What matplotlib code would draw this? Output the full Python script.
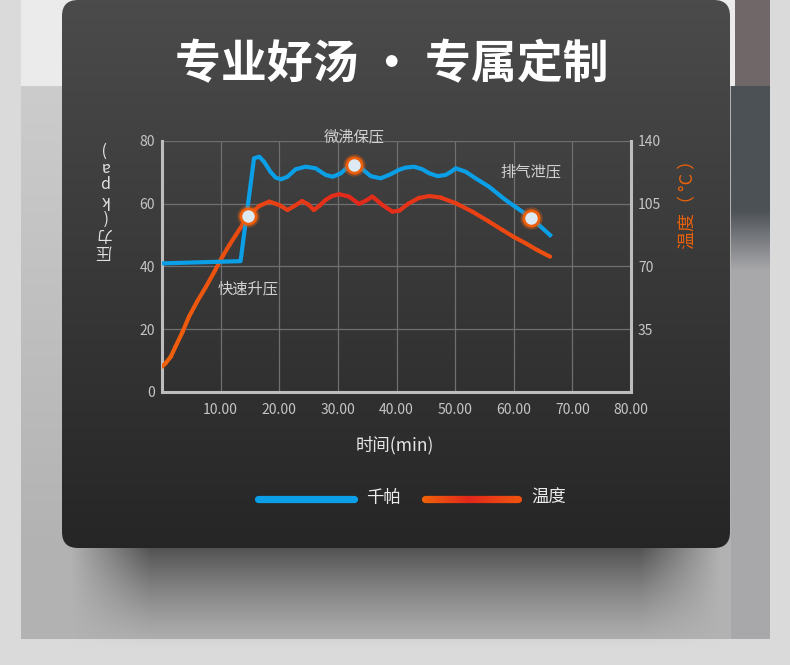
import numpy as np
import matplotlib
matplotlib.use('Agg')
import matplotlib.pyplot as plt
from matplotlib.patches import FancyBboxPatch
from matplotlib.collections import LineCollection
from matplotlib.colors import LinearSegmentedColormap

plt.rcParams['font.family'] = ['Noto Sans CJK SC', 'DejaVu Sans']

W, H = 790, 665

# pressure curve (kPa) against time (min)
press_time = [0, 13.4, 15.7, 16.6, 17.4, 18.5, 19.4, 20.3, 21.4, 22.8, 24.5, 26.2,
              27.9, 29.1, 30.5, 31.6, 32.8, 34.2, 35.6, 37.3, 39.0, 40.4, 41.5,
              43.0, 44.4, 45.6, 47.0, 48.4, 49.3, 50.1, 51.8, 53.5, 55.8, 58.6,
              62.9, 66.2]
press_kpa = [41.0, 41.7, 74.5, 75.0, 73.4, 70.2, 68.3, 67.8, 68.6, 71.0, 71.8, 71.3,
             69.2, 68.6, 69.7, 71.6, 72.3, 71.0, 68.8, 68.1, 69.4, 70.8, 71.5,
             71.8, 71.0, 69.7, 68.8, 69.2, 70.2, 71.3, 70.2, 68.1, 65.4, 61.2,
             55.6, 50.0]

# temperature curve (°C) against time (min)
temp_time = [0, 0.6, 1.5, 2.3, 3.5, 4.6, 6.0, 7.5, 9.0, 10.3, 11.5, 12.6, 14.7,
             16.6, 18.3, 20.0, 21.4, 22.6, 23.9, 25.0, 25.9, 26.9, 27.9, 29.0,
             30.2, 31.9, 33.6, 34.8, 35.9, 37.6, 39.3, 40.5, 42.0, 43.8, 45.6,
             47.5, 50.1, 53.0, 55.8, 58.0, 60.0, 62.0, 64.0, 66.2]
temp_c = [14.1, 16.0, 19.7, 25.3, 33.5, 42.0, 50.5, 58.7, 67.5, 75.5, 82.0, 87.6, 98.2,
          103.8, 106.2, 104.3, 101.5, 103.8, 106.5, 104.5, 101.5, 104.0, 107.1, 109.3,
          110.3, 109.0, 104.9, 106.8, 109.0, 104.3, 100.6, 101.2, 105.0, 108.2, 109.3,
          108.5, 105.3, 100.5, 95.0, 90.5, 86.5, 83.0, 79.2, 75.5]

press_marks = [16, 34]   # indices of highlighted pressure points
temp_marks = [12]        # index of highlighted temperature point

x_ticks = [0, 10, 20, 30, 40, 50, 60, 70, 80]
x_labels = ['', '10.00', '20.00', '30.00', '40.00', '50.00', '60.00', '70.00', '80.00']
p_ticks = [0, 20, 40, 60, 80]
t_ticks = [0, 35, 70, 105, 140]
t_labels = ['', '35', '70', '105', '140']

notes = ['快速升压', '微沸保压', '排气泄压']
note_pos = [(14.7, 32.8), (32.8, 81.3), (63.0, 70.1)]

BLUE = '#0a9fe6'
ORANGE = '#ee5f0c'
warm = LinearSegmentedColormap.from_list('warm', ['#f0620a', '#e2281c', '#ee5010'])

fig = plt.figure(figsize=(W / 100, H / 100), dpi=100)

# ---- background / card
bg = fig.add_axes([0, 0, 1, 1])
bg.set_xlim(0, W)
bg.set_ylim(H, 0)
bg.axis('off')

yy, xx = np.mgrid[0:H, 0:W].astype(float)
img = np.ones((H, W, 3)) * 0.855
inner = (xx >= 21) & (xx <= 769) & (yy <= 638)
img[inner] = 0.70
top = inner & (yy < 86)
img[top & (xx < 735)] = 0.925
img[top & (xx >= 735)] = [0.44, 0.41, 0.41]
left_col = inner & (yy >= 86) & (xx < 62)
g = 0.80 - 0.10 * np.clip((yy - 86) / 460, 0, 1)
img[left_col] = g[left_col][:, None]
right_col = inner & (yy >= 86) & (xx > 730)
f = np.clip((yy - 210) / 60, 0, 1)[..., None]
rc = np.array([0.30, 0.32, 0.34]) * (1 - f) + np.array([0.66, 0.66, 0.67]) * f
img[right_col] = rc[right_col]
# card shadow
sy = np.clip(1 - (yy - 548) / 100, 0, 1) ** 1.3 * (yy >= 548)
sx = np.clip((xx - 70) / 80, 0, 1) * np.clip((720 - xx) / 80, 0, 1)
a = (0.85 * sy * sx)[..., None]
img = img * (1 - a) + 0.26 * a
bg.imshow(img, extent=[0, W, H, 0], zorder=0)

card = FancyBboxPatch((62, 0), 668, 548, boxstyle='round,pad=0,rounding_size=16',
                      fc='none', ec='none', zorder=1)
bg.add_patch(card)
grad = np.linspace(0.295, 0.148, 300)[:, None] * np.ones((300, 2))
cimg = bg.imshow(np.dstack([grad, grad, grad]), extent=[62, 730, 548, 0],
                 aspect='auto', zorder=1)
cimg.set_clip_path(card)

fig.text(392 / W, 1 - 65 / H, '专业好汤 · 专属定制', ha='center', va='center',
         fontsize=33, fontweight='bold', color='white')

# legend swatches
bg.plot([258, 354], [499, 499], color=BLUE, lw=5.2, solid_capstyle='round', zorder=3)
lx = np.linspace(425, 518, 60)
segs = [[(lx[i], 499), (lx[i + 1], 499)] for i in range(len(lx) - 1)]
bg.add_collection(LineCollection(segs, colors=warm(np.linspace(0, 1, len(segs))),
                                 lw=5.2, capstyle='round', zorder=3))
bg.text(366, 498, '千帕', ha='left', va='center', fontsize=12.5, color='#ececec')
bg.text(531, 498, '温度', ha='left', va='center', fontsize=12.5, color='#ececec')

# ---- chart
ax = fig.add_axes([162 / W, 1 - 392 / H, 469 / W, 251 / H])
ax.patch.set_visible(False)
ax2 = ax.twinx()

ax.set_xlim(0, 80)
ax.set_ylim(0, 80)
ax2.set_ylim(0, 140)
ax.set_xticks(x_ticks, x_labels)
ax.set_yticks(p_ticks)
ax2.set_yticks(t_ticks, t_labels)
ax.grid(True, color='#6f6f6f', lw=0.9)
ax.set_axisbelow(True)

for sp in ['top', 'right']:
    ax.spines[sp].set_visible(False)
for sp in ['left', 'bottom']:
    ax.spines[sp].set_color('#bdbdbd')
    ax.spines[sp].set_linewidth(2.2)
for sp in ['top', 'left', 'bottom']:
    ax2.spines[sp].set_visible(False)
ax2.spines['right'].set_color('#bdbdbd')
ax2.spines['right'].set_linewidth(2.2)

ax.tick_params(axis='y', length=0, colors='#c6c6c6', labelsize=10, pad=5)
ax.tick_params(axis='x', length=0, colors='#c6c6c6', labelsize=10, pad=8)
ax2.tick_params(axis='y', length=0, colors='#c6c6c6', labelsize=10, pad=5)

# temperature line with warm gradient
pts = np.column_stack([temp_time, temp_c])
segs = np.stack([pts[:-1], pts[1:]], axis=1)
mid = (pts[:-1, 0] + pts[1:, 0]) / 2 / max(temp_time)
ax2.add_collection(LineCollection(segs, colors=warm(mid), lw=3, capstyle='round',
                                  joinstyle='round', zorder=2))

# pressure line drawn on top, in kPa coordinates
ax2.plot(press_time, press_kpa, color=BLUE, lw=3, solid_joinstyle='round',
         transform=ax.transData, zorder=3)
ax2.set_ylim(0, 140)

# highlighted points
mx = [press_time[i] for i in press_marks]
my = [press_kpa[i] for i in press_marks]
ax2.plot(mx, my, 'o', ms=16, color=ORANGE, alpha=0.35, mew=0,
         transform=ax.transData, zorder=4)
ax2.plot(mx, my, 'o', ms=11, mfc='#dde9f3', mec=ORANGE, mew=2,
         transform=ax.transData, zorder=5)
tx = [temp_time[i] for i in temp_marks]
ty = [temp_c[i] for i in temp_marks]
ax2.plot(tx, ty, 'o', ms=16, color=ORANGE, alpha=0.35, mew=0, zorder=4)
ax2.plot(tx, ty, 'o', ms=11, mfc='#dde9f3', mec=ORANGE, mew=2, zorder=5)

for label, (px, py) in zip(notes, note_pos):
    ax.text(px, py, label, ha='center', va='center', fontsize=11, color='#d2d2d2',
            clip_on=False, zorder=6)

fig.text(395 / W, 1 - 445 / H, '时间(min)', ha='center', va='center',
         fontsize=12.5, color='#e6e6e6')
fig.text(104 / W, 1 - 200 / H, '\n'.join('压力(kpa)'), rotation=180, ha='center',
         va='center', multialignment='center', linespacing=1.0, fontsize=11.5,
         color='#e2e2e2')
fig.text(688 / W, 1 - 200 / H, '温度（ °C ）', rotation=90, ha='center', va='center',
         fontsize=13, color='#e8620c')

fig.savefig('out.png', dpi=100)
